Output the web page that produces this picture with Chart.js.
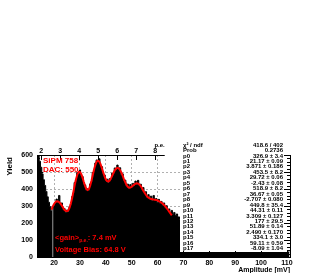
<!DOCTYPE html>
<html><head><meta charset="utf-8">
<script src="https://cdn.jsdelivr.net/npm/chart.js@4.4.1/dist/chart.umd.min.js"></script>
<style>html,body{margin:0;padding:0;background:#fff;overflow:hidden}canvas{display:block}</style>
</head><body>
<canvas id="c" width="327" height="273"></canvas>
<script>
// ---- data ----
const binCenters = [
 13.5,14,14.5,15,15.5,16,16.5,17,17.5,18,
 18.5,19,19.5,20,20.5,21,21.5,22,22.5,23,
 23.5,24,24.5,25,25.5,26,26.5,27,27.5,28,
 28.5,29,29.5,30,30.5,31,31.5,32,32.5,33,
 33.5,34,34.5,35,35.5,36,36.5,37,37.5,38,
 38.5,39,39.5,40,40.5,41,41.5,42,42.5,43,
 43.5,44,44.5,45,45.5,46,46.5,47,47.5,48,
 48.5,49,49.5,50,50.5,51,51.5,52,52.5,53,
 53.5,54,54.5,55,55.5,56,56.5,57,57.5,58,
 58.5,59,59.5,60,60.5,61,61.5,62,62.5,63,
 63.5,64,64.5,65,65.5,66,66.5,67,67.5,68,
 69,70,71,72,73,74,75,76,77,78,
 79,80,81,82,83,84,85,86,87,88,
 89,90,91,92,93,94,95,96,97,98,
 99,100,101,102,103,104,105,106,107,108,
 109,110,111];
const counts = [
 642,601,563,528,489,455,421,386,354,322,
 296,271,284,301,318,341,322,362,309,318,
 279,285,262,276,264,297,309,355,377,438,
 451,497,489,512,481,473,428,424,392,401,
 389,430,442,497,509,553,571,559,578,538,
 531,489,483,449,458,436,461,455,493,489,
 524,512,541,516,525,486,489,447,452,418,
 429,401,426,407,433,419,447,428,451,419,
 428,398,409,371,384,349,367,339,358,331,
 362,329,344,321,339,316,327,304,318,291,
 302,276,283,262,274,251,262,244,253,236,
 221,204,193,176,168,152,141,133,121,114,
 103,98,89,84,77,73,66,63,58,55,
 51,49,46,44,42,41,39,38,37,36,
 35,35,34,34,33,33,32,32,31,31,
 31,30,30];
const fitX = [
 19,19.5,20,20.5,21,21.5,22,22.5,23,23.5,
 24,24.5,25,25.5,26,26.5,27,27.5,28,28.5,
 29,29.5,30,30.5,31,31.5,32,32.5,33,33.5,
 34,34.5,35,35.5,36,36.5,37,37.5,38,38.5,
 39,39.5,40,40.5,41,41.5,42,42.5,43,43.5,
 44,44.5,45,45.5,46,46.5,47,47.5,48,48.5,
 49,49.5,50,50.5,51,51.5,52,52.5,53,53.5,
 54,54.5,55,55.5,56,56.5,57,57.5,58,58.5,
 59,59.5,60,60.5,61,61.5,62,62.5,63,63.5,
 64,64.5,65,65.5];
const fitY = [
 279,298,312,322,328,327,322,314,302,290,
 278,271,269,275,290,316,348,386,425,459,
 485,500,500,489,467,441,417,400,394,400,
 422,451,485,518,544,562,567,561,545,522,
 498,475,456,446,444,450,464,479,496,511,
 520,524,521,512,497,478,458,440,424,413,
 408,409,413,420,426,432,434,432,426,417,
 404,390,378,366,356,349,345,341,340,338,
 337,335,333,329,325,319,313,306,298,288,
 278,267,256,245];
const xTicks = [20,30,40,50,60,70,80,90,100,110];
const yTicks = [0,100,200,300,400,500,600];
const peTicks = [2,3,4,5,6,7,8];
const pe8Mv = 59.1, gainMv = 7.35, peAxisEnd = 8.5;
const markerMv = 19.5, markerTop = 285;
const statNames = ['χ² / ndf','Prob','p0','p1','p2','p3','p4','p5','p6','p7','p8','p9','p10','p11','p12','p13','p14','p15','p16','p17'];
const statValues = ['418.6 / 402','0.2736','326.9 ± 3.4','21.17 ± 0.09','3.871 ± 0.186','453.5 ± 8.2','29.72 ± 0.06','-2.43 ± 0.08','518.9 ± 8.2','36.67 ± 0.05','-2.707 ± 0.080','449.8 ± 35.4','44.31 ± 0.11','3.309 ± 0.127','177 ± 29.5','51.89 ± 0.14','2.490 ± 0.170','334.1 ± 3.0','59.11 ± 0.59','-8.09 ± 1.04'];

const FONT = '"Liberation Sans", Arial, sans-serif';

const deco = {
  id: 'deco',
  afterDraw(chart) {
    const {ctx, chartArea: a, scales: {x, y}} = chart;
    ctx.save();
    // stats box
    ctx.fillStyle = '#fff';
    ctx.fillRect(180, 140, 107, 112);
    ctx.fillStyle = '#000';
    ctx.font = 'bold 6px ' + FONT;
    ctx.textBaseline = 'middle';
    statNames.forEach((n, i) => {
      const yy = 145 + i * 5.45;
      ctx.textAlign = 'left'; ctx.fillText(n, 183, yy);
      ctx.textAlign = 'right'; ctx.fillText(statValues[i], 283, yy);
    });
    // inward ticks on left/right axes
    ctx.strokeStyle = '#000'; ctx.lineWidth = 1;
    ctx.beginPath();
    for (let v = 0; v <= 600; v += 20) {
      const py = Math.round(y.getPixelForValue(v)) + 0.5;
      const len = v % 100 === 0 ? 6 : 3;
      ctx.moveTo(a.right - len, py); ctx.lineTo(a.right, py);
      ctx.moveTo(a.left, py); ctx.lineTo(a.left + len, py);
    }
    for (let v = 14; v <= 110; v += 2) {
      const px = Math.round(x.getPixelForValue(v)) + 0.5;
      const len = v % 10 === 0 ? 6 : 3;
      ctx.moveTo(px, a.bottom); ctx.lineTo(px, a.bottom - len);
    }
    ctx.stroke();
    // top p.e. axis
    const peToMv = p => pe8Mv + (p - 8) * gainMv;
    const xEnd = x.getPixelForValue(peToMv(peAxisEnd));
    ctx.beginPath();
    ctx.moveTo(a.left, a.top + 0.5); ctx.lineTo(xEnd, a.top + 0.5);
    peTicks.forEach(p => {
      const px = Math.round(x.getPixelForValue(peToMv(p))) + 0.5;
      ctx.moveTo(px, a.top); ctx.lineTo(px, a.top + 5);
    });
    ctx.stroke();
    ctx.font = 'bold 7px ' + FONT;
    ctx.textAlign = 'center'; ctx.textBaseline = 'alphabetic';
    peTicks.forEach(p => {
      ctx.fillText(String(p), x.getPixelForValue(peToMv(p)), a.top - 2);
    });
    ctx.textAlign = 'right';
    ctx.font = 'bold 6px ' + FONT;
    ctx.fillText('p.e.', xEnd, a.top - 8);
    // axis titles
    ctx.font = 'bold 7px ' + FONT;
    ctx.textAlign = 'right'; ctx.textBaseline = 'middle';
    ctx.fillText('Amplitude [mV]', a.right, 270);
    ctx.save();
    ctx.translate(10, 157); ctx.rotate(-Math.PI / 2);
    ctx.font = 'bold 8px ' + FONT;
    ctx.textAlign = 'right';
    ctx.fillText('Yield', 0, 0);
    ctx.restore();
    // red annotations
    ctx.fillStyle = '#ff0000';
    ctx.textAlign = 'left'; ctx.textBaseline = 'middle';
    ctx.font = 'bold 8px ' + FONT;
    ctx.fillText('SiPM 758', 43, 161);
    ctx.fillText('DAC: 550', 43, 170);
    ctx.font = 'bold 7.5px ' + FONT;
    let tx = 55;
    ctx.fillText('<gain>', tx, 238); tx += ctx.measureText('<gain>').width;
    ctx.font = 'bold 5px ' + FONT;
    ctx.fillText('p.e.', tx, 241); tx += ctx.measureText('p.e.').width;
    ctx.font = 'bold 7.5px ' + FONT;
    ctx.fillText(': 7.4 mV', tx, 238);
    ctx.fillText('Voltage Bias: 64.8 V', 55, 250);
    ctx.restore();
  }
};

const tickFont = {family: FONT, size: 7, weight: 'bold'};
new Chart(document.getElementById('c'), {
  type: 'line',
  data: {
    datasets: [
      {label: 'fit', data: fitX.map((v, i) => ({x: v, y: fitY[i]})), borderColor: '#ff0000', borderWidth: 2, pointRadius: 0, fill: false, tension: 0, order: 1},
      {label: 'marker', data: [{x: markerMv, y: 0}, {x: markerMv, y: markerTop}], borderColor: '#9a9a9a', borderWidth: 1, pointRadius: 0, fill: false, order: 2},
      {label: 'hist', data: binCenters.map((v, i) => ({x: v, y: counts[i]})), stepped: 'middle', fill: 'origin', backgroundColor: '#000', borderColor: '#000', borderWidth: 1, pointRadius: 0, order: 3}
    ]
  },
  options: {
    responsive: false, animation: false, devicePixelRatio: 1,
    layout: {padding: {top: 155, left: 0, right: 0, bottom: 0}},
    plugins: {legend: {display: false}, tooltip: {enabled: false}},
    scales: {
      x: {
        type: 'linear', position: 'bottom', min: 13.4, max: 111.2,
        afterBuildTicks: s => { s.ticks = xTicks.map(v => ({value: v})); },
        afterFit: s => { s.height = 16; },
        ticks: {font: tickFont, color: '#000', padding: 2, maxRotation: 0, autoSkip: false},
        grid: {color: '#b0b0b0', drawTicks: false, lineWidth: 1},
        border: {display: true, color: '#000', width: 1, dash: [2, 2]}
      },
      y: {
        position: 'left', min: 0, max: 600,
        afterBuildTicks: s => { s.ticks = yTicks.map(v => ({value: v})); },
        afterFit: s => { s.width = 37; },
        ticks: {font: tickFont, color: '#000', padding: 4},
        grid: {color: c => (c.tick && c.tick.value === 600) ? 'rgba(0,0,0,0)' : '#b0b0b0', drawTicks: false, lineWidth: 1},
        border: {display: true, color: '#000', width: 1, dash: [2, 2]}
      },
      y2: {
        position: 'right', min: 0, max: 600,
        afterFit: s => { s.width = 37; },
        ticks: {display: false},
        grid: {display: false, drawTicks: false},
        border: {display: true, color: '#000', width: 1}
      }
    }
  },
  plugins: [deco]
});
</script>
</body></html>
